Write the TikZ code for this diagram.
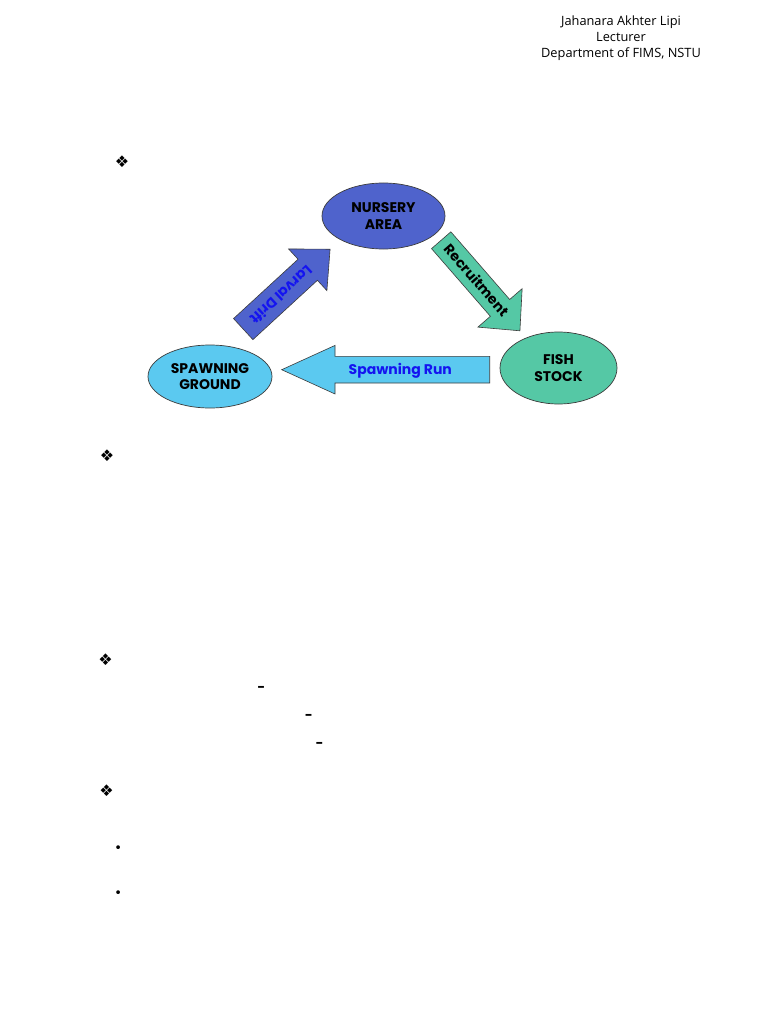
\documentclass[tikz,border=0pt]{standalone}
\usepackage{fontspec}
\usepackage{tikz}
\usetikzlibrary{shapes.geometric,shapes.arrows}
\setmainfont{Open Sans}
\newfontfamily\diagfont{Poppins}
\newfontfamily\symfont{DejaVu Sans}
\definecolor{nurseryblue}{RGB}{79,99,204}
\definecolor{spawnblue}{RGB}{91,201,240}
\definecolor{stockgreen}{RGB}{85,200,165}
\definecolor{flowtext}{RGB}{20,20,240}
\definecolor{edgegray}{RGB}{60,60,60}

\begin{document}
\begin{tikzpicture}[
    x=1pt,y=-1pt,
    stage/.style={ellipse,draw=edgegray,line width=0.7pt,inner sep=0pt,align=center,font=\diagfont\bfseries\fontsize{14}{16.5}\selectfont},
    flow/.style={single arrow,draw=edgegray,line width=0.6pt,inner xsep=0pt,inner ysep=0pt,anchor=tail,single arrow head indent=0pt,font=\diagfont\bfseries\fontsize{14}{16}\selectfont},
    hdr/.style={align=center,font=\fontsize{12.8}{16}\selectfont},
    sym/.style={inner sep=0pt,font=\symfont\fontsize{16}{16}\selectfont},
    dashmark/.style={inner sep=0pt,font=\symfont\bfseries\fontsize{15}{15}\selectfont}
]
\useasboundingbox[fill=white] (0,0) rectangle (768,1024);

\node[hdr] (author) at (621,38.5) {Jahanara Akhter Lipi\\Lecturer\\Department of FIMS, NSTU};

% life cycle
\node[stage,fill=nurseryblue,minimum width=123,minimum height=66] (nursery) at (383.5,216) {NURSERY\\AREA};
\node[stage,fill=spawnblue,minimum width=124,minimum height=63] (spawning) at (210,376.5) {SPAWNING\\GROUND};
\node[stage,fill=stockgreen,minimum width=117,minimum height=72] (stock) at (558.5,368) {FISH\\STOCK};

\node[flow,fill=nurseryblue,text=flowtext,rotate=222.6,shape border rotate=180,text height=18.9pt,text depth=9.1pt,minimum height=118,single arrow head extend=14,single arrow tip angle=86] (larval) at (243,329.3) {Larval Drift};
\node[flow,fill=stockgreen,rotate=-49,text height=17.4pt,text depth=7.6pt,minimum height=120,single arrow head extend=16.5,single arrow tip angle=88] (recruit) at (441,240) {Recruitment};
\node[flow,fill=spawnblue,text=flowtext,shape border rotate=180,text height=17.9pt,text depth=8.1pt,minimum height=208,single arrow head extend=11,single arrow tip angle=49] (run) at (490,369.7) {Spawning Run};

% list marks
\node[sym] (d1) at (122,162) {❖};
\node[sym] (d2) at (107,456) {❖};
\node[sym] (d3) at (105.5,660) {❖};
\node[sym] (d4) at (106.5,791) {❖};
\node[sym,font=\symfont\fontsize{13}{13}\selectfont] (b1) at (118.3,849) {•};
\node[sym,font=\symfont\fontsize{13}{13}\selectfont] (b2) at (118.3,894) {•};
\node[dashmark] (m1) at (261,689) {–};
\node[dashmark] (m2) at (308.5,717) {–};
\node[dashmark] (m3) at (319.3,745) {–};
\end{tikzpicture}
\end{document}
